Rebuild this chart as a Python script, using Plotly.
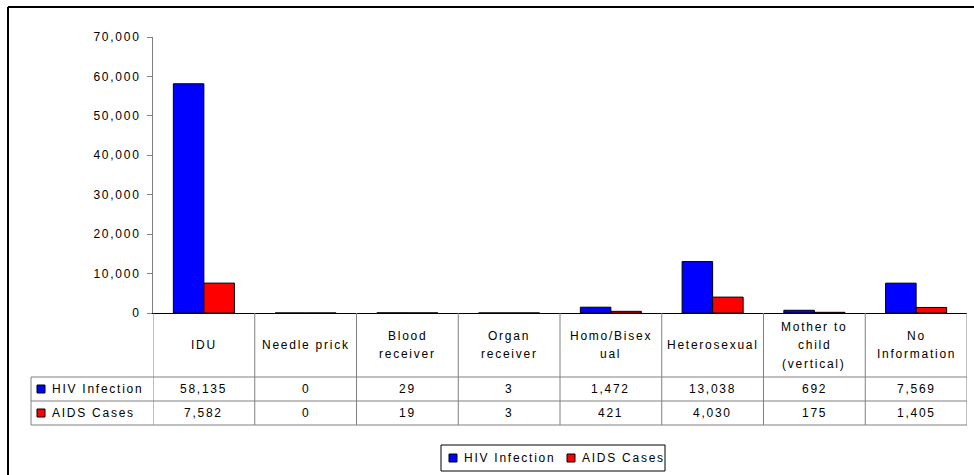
import plotly.graph_objects as go

# data
categories = ["IDU", "Needle prick", "Blood\nreceiver", "Organ\nreceiver",
              "Homo/Bisex\nual", "Heterosexual", "Mother to\nchild\n(vertical)",
              "No\nInformation"]
hiv_infection = [58135, 0, 29, 3, 1472, 13038, 692, 7569]
aids_cases = [7582, 0, 19, 3, 421, 4030, 175, 1405]
series_names = ["HIV Infection", "AIDS Cases"]
series_colors = ["#0000FF", "#FF0000"]
y_ticks = [0, 10000, 20000, 30000, 40000, 50000, 60000, 70000]

W, H = 974, 475
L, R, T, B = 153, 967, 37, 313      # plot area in pixels
FONT = "Liberation Sans, Arial, sans-serif"
GRID = "#808080"


def px(x):
    return (x - L) / (R - L)


def py(y):
    return (B - y) / (B - T)


def sp(text):
    # the original text is rendered a little stretched
    return f'<span style="letter-spacing:1.75px">{text}</span>'


series = [hiv_infection, aids_cases]
idx = list(range(len(categories)))

fig = go.Figure()
for name, vals, col in zip(series_names, series, series_colors):
    fig.add_trace(go.Bar(x=idx, y=vals, name=name, marker_color=col,
                         marker_line=dict(color="black", width=1),
                         showlegend=False, hoverinfo="x+y"))

shapes = []
annotations = []

# outer frame (top and left edges visible)
shapes.append(dict(type="line", xref="paper", yref="paper", x0=px(8), x1=px(W + 5),
                   y0=py(7), y1=py(7), line=dict(color="black", width=2)))
shapes.append(dict(type="line", xref="paper", yref="paper", x0=px(8), x1=px(8),
                   y0=py(7), y1=py(H + 5), line=dict(color="black", width=2)))

# data table grid
row_mid = [389, 413]
for yy in [377, 401, 425]:
    shapes.append(dict(type="line", xref="paper", yref="paper", x0=px(31), x1=1,
                       y0=py(yy), y1=py(yy), line=dict(color=GRID, width=1)))
for i in range(len(categories) + 1):
    shapes.append(dict(type="line", xref="x", yref="paper", x0=i - 0.5, x1=i - 0.5,
                       y0=py(313), y1=py(425), line=dict(color=GRID, width=1)))
shapes.append(dict(type="line", xref="paper", yref="paper", x0=px(31), x1=px(31),
                   y0=py(377), y1=py(425), line=dict(color=GRID, width=1)))

# header cells
for i, cat in enumerate(categories):
    lines = cat.split("\n")
    n = len(lines)
    for j, line in enumerate(lines):
        yy = 345 + (j - (n - 1) / 2) * 18.5
        annotations.append(dict(x=i, xref="x", y=py(yy), yref="paper", text=sp(line),
                                showarrow=False, xanchor="center", yanchor="middle"))

# value rows with their keys
for r, (name, vals, col) in enumerate(zip(series_names, series, series_colors)):
    ym = row_mid[r]
    shapes.append(dict(type="rect", xref="paper", yref="paper", x0=px(37), x1=px(45),
                       y0=py(ym + 4), y1=py(ym - 4), fillcolor=col,
                       line=dict(color="black", width=1)))
    annotations.append(dict(x=px(50), xref="paper", y=py(ym), yref="paper",
                            text=sp(name), showarrow=False, xanchor="left",
                            yanchor="middle"))
    for i, v in enumerate(vals):
        annotations.append(dict(x=i, xref="x", y=py(ym), yref="paper",
                                text=sp(f"{v:,}"), showarrow=False,
                                xanchor="center", yanchor="middle"))

# legend box below the table
shapes.append(dict(type="rect", xref="paper", yref="paper", x0=px(441), x1=px(665),
                   y0=py(445), y1=py(471), fillcolor="white",
                   line=dict(color="black", width=1)))
for key_x, name, col in zip([449, 567], series_names, series_colors):
    shapes.append(dict(type="rect", xref="paper", yref="paper", x0=px(key_x),
                       x1=px(key_x + 8), y0=py(462), y1=py(454), fillcolor=col,
                       line=dict(color="black", width=1)))
    annotations.append(dict(x=px(key_x + 13), xref="paper", y=py(458), yref="paper",
                            text=sp(name), showarrow=False, xanchor="left",
                            yanchor="middle"))

fig.update_layout(
    width=W, height=H,
    margin=dict(l=L, r=W - R, t=T, b=H - B, pad=0),
    paper_bgcolor="white", plot_bgcolor="white",
    font=dict(family=FONT, size=12, color="black"),
    barmode="group", bargap=0.4, bargroupgap=0,
    shapes=shapes, annotations=annotations,
    showlegend=False,
)
fig.update_xaxes(range=[-0.5, len(categories) - 0.5], showticklabels=False,
                 showgrid=False, zeroline=False, showline=True, linecolor="black",
                 linewidth=1, ticks="")
fig.update_yaxes(range=[0, 70000], tickvals=y_ticks,
                 ticktext=[sp(f"{v:,}") for v in y_ticks],
                 showgrid=False, zeroline=False, showline=True, linecolor=GRID,
                 linewidth=1, ticks="outside", ticklen=5, tickcolor=GRID,
                 ticklabelstandoff=4)

fig.write_html("out.html", config={"displayModeBar": False},
               post_script="document.body.style.margin='0';")
